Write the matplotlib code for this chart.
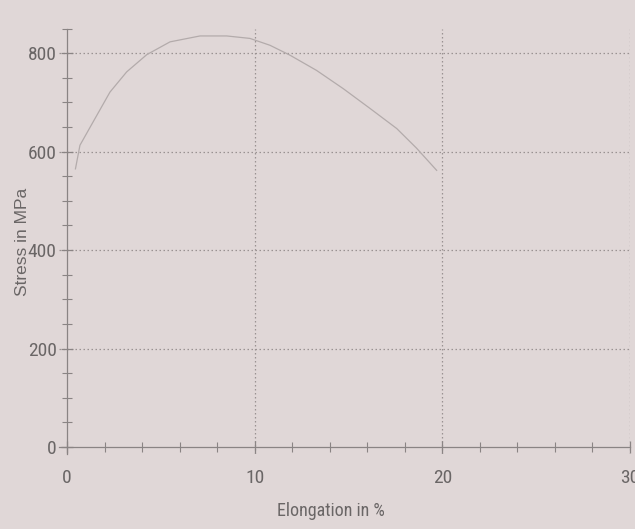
import matplotlib
matplotlib.use("Agg")
import matplotlib.pyplot as plt
from matplotlib.ticker import MultipleLocator
from matplotlib import font_manager as fm

# data
elongation = [0.45, 0.69, 1.4, 2.29, 3.18, 4.25, 5.49, 7.09, 8.51, 9.75, 10.82,
              11.88, 13.3, 14.72, 16.14, 17.57, 18.63, 19.7]
stress = [565, 613, 661, 721, 762, 797, 823, 835, 835, 830, 816,
          796, 765, 728, 688, 647, 607, 562]
x_ticks = [0, 10, 20, 30]
y_ticks = [0, 200, 400, 600, 800]
x_label = "Elongation in %"
y_label = "Stress in MPa"

# look for a condensed sans font; fall back to Liberation Sans
names = {f.name for f in fm.fontManager.ttflist}
narrow = None
for cand in ["Liberation Sans Narrow", "Arial Narrow", "Roboto Condensed",
             "Open Sans Condensed", "DejaVu Sans Condensed", "Noto Sans Condensed"]:
    if cand in names:
        narrow = fm.FontProperties(family=cand)
        break
if narrow is None:
    for f in fm.fontManager.ttflist:
        if f.stretch in ("condensed", "semi-condensed") and f.weight in (400, "normal", "regular") \
                and f.style == "normal" and "Sans" in f.name:
            narrow = fm.FontProperties(fname=f.fname)
            break
if narrow is None:
    narrow = fm.FontProperties(family=["Liberation Sans", "DejaVu Sans"])
    tick_size, xlab_size = 12, 11.5
else:
    tick_size, xlab_size = 14, 13

paper = "#e0d7d7"
ink = "#6a6666"

fig = plt.figure(figsize=(6.35, 5.29), dpi=100, facecolor=paper)
ax = fig.add_axes([0.0937, 0.141, 0.8983, 0.805])
ax.set_facecolor(paper)

ax.plot(elongation, stress, color="#b3abab", lw=0.9, solid_joinstyle="round")

ax.set_xlim(-0.4, 30)
ax.set_ylim(-15, 850)
ax.set_xticks(x_ticks)
ax.set_yticks(y_ticks)
ax.xaxis.set_minor_locator(MultipleLocator(2))
ax.yaxis.set_minor_locator(MultipleLocator(50))

for s in ["top", "right"]:
    ax.spines[s].set_visible(False)
ax.spines["left"].set_position(("data", 0))
ax.spines["bottom"].set_position(("data", 0))
for s in ["left", "bottom"]:
    ax.spines[s].set_color("#8a8484")
    ax.spines[s].set_linewidth(0.9)

ax.tick_params(axis="both", which="major", direction="inout", length=9, width=0.9,
               color="#8a8484", labelcolor=ink)
ax.tick_params(axis="both", which="minor", direction="inout", length=7, width=0.8,
               color="#8a8484")
ax.tick_params(axis="x", which="major", pad=11)
ax.tick_params(axis="y", which="major", pad=3)
for lab in ax.get_xticklabels() + ax.get_yticklabels():
    lab.set_fontproperties(narrow)
    lab.set_fontsize(tick_size)

for v in x_ticks[1:]:
    ax.axvline(v, color="#9a9292", lw=0.9, ls=(0, (1.2, 2.0)), zorder=0)
for v in y_ticks[1:]:
    ax.axhline(v, color="#9a9292", lw=0.9, ls=(0, (1.2, 2.0)), zorder=0)

ax.set_xlabel(x_label, color=ink, fontproperties=narrow, fontsize=xlab_size)
ax.xaxis.set_label_coords(0.476, -0.112)
ax.set_ylabel(y_label, color=ink, fontsize=12.5, family=["Liberation Sans", "DejaVu Sans"])
ax.yaxis.set_label_coords(-0.052, 0.5)

fig.savefig("out.png", dpi=100, facecolor=paper)
